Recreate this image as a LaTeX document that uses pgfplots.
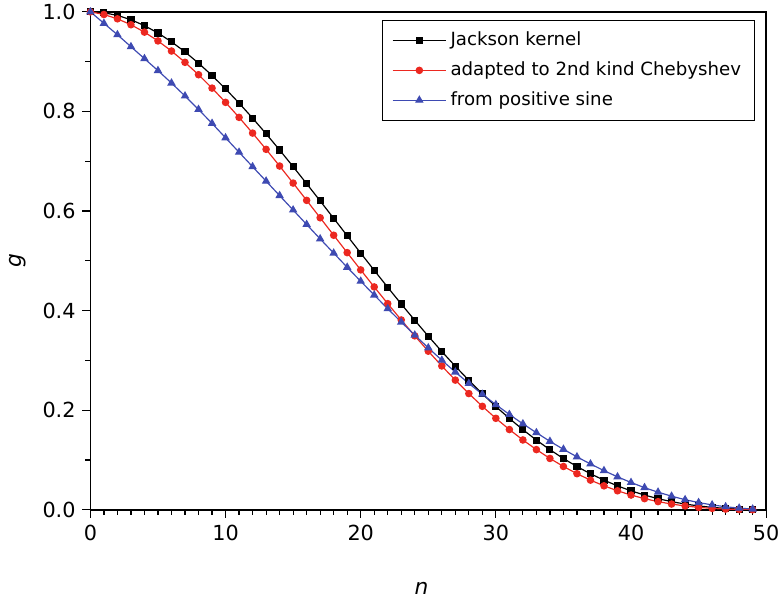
\documentclass[border=0pt]{standalone}
\usepackage{fontspec}
\setmainfont{DejaVu Sans}
\usepackage{pgfplots}
\pgfplotsset{compat=1.18}
\definecolor{jred}{RGB}{236,40,32}
\definecolor{jblue}{RGB}{62,74,178}

% g_n values, n = 0..49
\begin{document}
\begin{tikzpicture}
\begin{axis}[
  scale only axis,
  width=342pt, height=252pt,
  xmin=0, xmax=50, ymin=0, ymax=1,
  xtick={0,10,...,50}, ytick={0,0.2,...,1.0},
  minor x tick num=9, minor y tick num=1,
  xtick pos=left, ytick pos=left,
  tick align=outside,
  major tick length=4pt, minor tick length=2.5pt,
  axis line style={line width=0.8pt},
  every tick/.style={black, line width=0.6pt},
  yticklabel style={/pgf/number format/fixed, /pgf/number format/fixed zerofill, /pgf/number format/precision=1},
  /pgf/number format/assume math mode=true,
  ticklabel style={font=\fontsize{10.5}{12}\selectfont},
  xlabel={\textit{n}}, ylabel={\textit{g}},
  label style={font=\fontsize{11}{13}\selectfont},
  xlabel style={at={(axis description cs:0.49,-0.158)}, anchor=center},
  ylabel style={at={(axis description cs:-0.1074,0.5)}, anchor=center},
  legend style={at={(rel axis cs:0.984,0.984)}, anchor=north east,
    font=\fontsize{9.2}{11}\selectfont, draw=black, line width=0.5pt,
    row sep=2.6pt, inner xsep=5pt, inner ysep=4pt},
  legend cell align=left,
  legend image code/.code={\draw[mark repeat=2,mark phase=2] plot coordinates {(0pt,0pt) (13.5pt,0pt) (27pt,0pt)};},
]
\coordinate (bl) at (rel axis cs:0,0);
\coordinate (tr) at (rel axis cs:1,1);

\addplot[black, line width=0.6pt, mark=square*, mark size=1.5pt] coordinates {
(0,1.000000) (1,0.998177) (2,0.992850) (3,0.984180) (4,0.972338)
(5,0.957504) (6,0.939867) (7,0.919624) (8,0.896979) (9,0.872140)
(10,0.845318) (11,0.816733) (12,0.786600) (13,0.755137) (14,0.722559)
(15,0.689083) (16,0.654921) (17,0.620280) (18,0.585365) (19,0.550368)
(20,0.515483) (21,0.480885) (22,0.446752) (23,0.413242) (24,0.380509)
(25,0.348693) (26,0.317923) (27,0.288316) (28,0.259973) (29,0.232987)
(30,0.207436) (31,0.183382) (32,0.160877) (33,0.139955) (34,0.120641)
(35,0.102943) (36,0.086856) (37,0.072364) (38,0.059436) (39,0.048029)
(40,0.038089) (41,0.029550) (42,0.022335) (43,0.016358) (44,0.011522)
(45,0.007724) (46,0.004851) (47,0.002783) (48,0.001396) (49,0.000560)
};
\addlegendentry{Jackson kernel}

\addplot[jred, line width=0.6pt, mark=*, mark size=1.6pt] coordinates {
(0,1.000000) (1,0.994663) (2,0.985977) (3,0.974114) (4,0.959253)
(5,0.941584) (6,0.921304) (7,0.898617) (8,0.873733) (9,0.846862)
(10,0.818225) (11,0.788037) (12,0.756516) (13,0.723879) (14,0.690342)
(15,0.656117) (16,0.621413) (17,0.586434) (18,0.551373) (19,0.516425)
(20,0.481763) (21,0.447568) (22,0.413997) (23,0.381204) (24,0.349330)
(25,0.318504) (26,0.288843) (27,0.260448) (28,0.233413) (29,0.207815)
(30,0.183717) (31,0.161171) (32,0.140211) (33,0.120861) (34,0.103131)
(35,0.087015) (36,0.072496) (37,0.059545) (38,0.048117) (39,0.038159)
(40,0.029604) (41,0.022376) (42,0.016388) (43,0.011543) (44,0.007738)
(45,0.004860) (46,0.002788) (47,0.001399) (48,0.000561) (49,0.000140)
};
\addlegendentry{adapted to 2nd kind Chebyshev}

\addplot[jblue, line width=0.6pt, mark=triangle*, mark size=1.9pt] coordinates {
(0,1.000) (1,0.977) (2,0.954) (3,0.930) (4,0.906)
(5,0.882) (6,0.857) (7,0.831) (8,0.804) (9,0.776)
(10,0.747) (11,0.718) (12,0.689) (13,0.660) (14,0.631)
(15,0.602) (16,0.573) (17,0.544) (18,0.5155) (19,0.487)
(20,0.459) (21,0.4312) (22,0.4038) (23,0.3770) (24,0.3508)
(25,0.3252) (26,0.3004) (27,0.2766) (28,0.2538) (29,0.2320)
(30,0.2112) (31,0.1914) (32,0.1726) (33,0.1548) (34,0.1375)
(35,0.1215) (36,0.1063) (37,0.0920) (38,0.0786) (39,0.0662)
(40,0.0548) (41,0.0445) (42,0.0354) (43,0.0273) (44,0.0203)
(45,0.0145) (46,0.0098) (47,0.0061) (48,0.0033) (49,0.0015)
};
\addlegendentry{from positive sine}
\end{axis}
\pgfresetboundingbox
\path[use as bounding box] ([xshift=-45.75pt,yshift=-46pt]bl) rectangle ([xshift=7pt,yshift=6pt]tr);
\end{tikzpicture}
\end{document}
